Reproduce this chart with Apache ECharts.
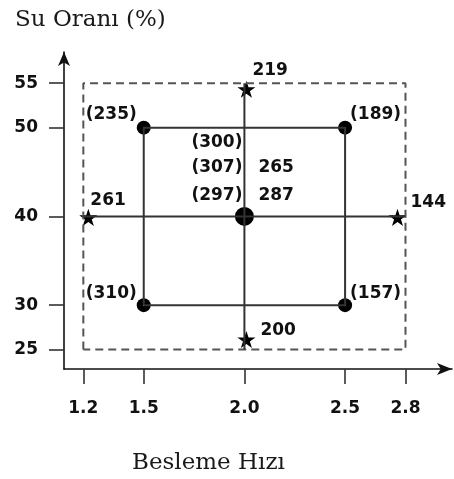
<!DOCTYPE html>
<html>
<head>
<meta charset="utf-8">
<script src="https://cdn.jsdelivr.net/npm/echarts@6/dist/echarts.min.js"></script>
<style>html,body{margin:0;padding:0;background:#fff;}#c{width:454px;height:479px;}</style>
</head>
<body>
<div id="c"></div>
<script>
// ---- data ----
const xTicks = [1.2, 1.5, 2.0, 2.5, 2.8];
const xTickLabels = ['1.2', '1.5', '2.0', '2.5', '2.8'];
const yTicks = [25, 30, 40, 50, 55];
const yTickLabels = ['25', '30', '40', '50', '55'];
const factorialPoints = [[1.5, 30], [1.5, 50], [2.5, 50], [2.5, 30]];
const factorialLabels = ['(310)', '(235)', '(189)', '(157)'];
const axialPoints = [[1.2, 40], [2.8, 40], [2.0, 55], [2.0, 25]];
const axialLabels = ['261', '144', '219', '200'];
const centerPoint = [2.0, 40];
const centerLabelsLeft = ['(300)', '(307)', '(297)'];
const centerLabelsRight = ['265', '287'];
const boundaryBox = [[1.2, 25], [1.2, 55], [2.8, 55], [2.8, 25], [1.2, 25]];
const factorialBox = [[1.5, 30], [1.5, 50], [2.5, 50], [2.5, 30], [1.5, 30]];
const horizontalLine = [[1.2, 40], [2.8, 40]];
const verticalLine = [[2.0, 25], [2.0, 55]];
const titleY = 'Su Oranı (%)';
const titleX = 'Besleme Hızı';

// ---- styles (pixel offsets for labels) ----
const factorialLabelStyle = [
  {align: 'right', offset: [-7, -12]},
  {align: 'right', offset: [-7, -13]},
  {align: 'left', offset: [5, -13]},
  {align: 'left', offset: [5, -12]}
];
const axialLabelStyle = [
  {align: 'left', offset: [7, -16]},
  {align: 'left', offset: [5, -14]},
  {align: 'left', offset: [8, -13]},
  {align: 'left', offset: [16, -19]}
];
const axialSymbolOffset = [[5, 1], [-8, 1], [2, 6], [2, -10]];
const centerLeftOffsets = [[-2, -74], [-2, -49], [-2, -21]];
const centerRightOffsets = [[14, -49], [14, -21]];

const starPath = 'path://M50,0 L61.2,34.5 L97.6,34.5 L68.2,55.9 L79.4,90.5 L50,69.1 L20.6,90.5 L31.8,55.9 L2.4,34.5 L38.8,34.5 Z';
const numFont = {fontFamily: 'DejaVu Sans', fontWeight: 'bold', fontSize: 17, color: '#111'};
const serifFont = {fontFamily: 'DejaVu Serif', fontSize: 23, fontWeight: 'normal', color: '#1a1a1a'};
const lineColor = '#333';

const labelItems = [];
factorialPoints.forEach((p, i) => labelItems.push({value: p, label: Object.assign({formatter: factorialLabels[i]}, factorialLabelStyle[i])}));
axialPoints.forEach((p, i) => labelItems.push({value: p, label: Object.assign({formatter: axialLabels[i]}, axialLabelStyle[i])}));
centerLabelsLeft.forEach((t, i) => labelItems.push({value: centerPoint, label: {formatter: t, align: 'right', offset: centerLeftOffsets[i]}}));
centerLabelsRight.forEach((t, i) => labelItems.push({value: centerPoint, label: {formatter: t, align: 'left', offset: centerRightOffsets[i]}}));

const chart = echarts.init(document.getElementById('c'), null, {renderer: 'canvas'});
chart.setOption({
  animation: false,
  backgroundColor: '#fff',
  title: [
    {text: titleY, left: 10, top: 4, textStyle: serifFont},
    {text: titleX, left: 127, top: 447, textStyle: serifFont}
  ],
  grid: {left: 64, right: 2, top: 52, bottom: 110},
  xAxis: {
    type: 'value', min: 1.104, max: 3.031,
    axisLine: {show: true, lineStyle: {color: '#111', width: 1.6}, symbol: ['none', 'arrow'], symbolSize: [9, 15]},
    axisTick: {show: true, customValues: xTicks, length: 15, lineStyle: {color: '#333', width: 1.6}},
    axisLabel: {show: true, customValues: xTicks, margin: 31,
      formatter: v => xTickLabels[xTicks.findIndex(t => Math.abs(t - v) < 1e-6)],
      ...numFont},
    splitLine: {show: false}
  },
  yAxis: {
    type: 'value', min: 22.81, max: 58.52,
    axisLine: {show: true, lineStyle: {color: '#111', width: 1.6}, symbol: ['none', 'arrow'], symbolSize: [9, 14]},
    axisTick: {show: true, customValues: yTicks, length: 15, lineStyle: {color: '#333', width: 1.6}},
    axisLabel: {show: true, customValues: yTicks, margin: 26,
      formatter: v => yTickLabels[yTicks.findIndex(t => Math.abs(t - v) < 1e-6)],
      ...numFont},
    splitLine: {show: false}
  },
  series: [
    {type: 'line', data: boundaryBox, symbol: 'none', silent: true,
      lineStyle: {color: '#555', width: 2, type: [8, 5]}},
    {type: 'line', data: factorialBox, symbol: 'none', silent: true,
      lineStyle: {color: lineColor, width: 2}},
    {type: 'line', data: horizontalLine, symbol: 'none', silent: true,
      lineStyle: {color: lineColor, width: 2}},
    {type: 'line', data: verticalLine, symbol: 'none', silent: true,
      lineStyle: {color: lineColor, width: 2}},
    {type: 'scatter', data: factorialPoints, symbol: 'circle', symbolSize: 14, silent: true,
      itemStyle: {color: '#000', opacity: 1}},
    {type: 'scatter', data: [centerPoint], symbol: 'circle', symbolSize: 19, silent: true,
      itemStyle: {color: '#000', opacity: 1}},
    {type: 'scatter', silent: true, symbol: starPath, symbolSize: 18, symbolKeepAspect: true,
      data: axialPoints.map((p, i) => ({value: p, symbolOffset: axialSymbolOffset[i]})),
      itemStyle: {color: '#000', opacity: 1}},
    {type: 'scatter', silent: true, symbolSize: 1, itemStyle: {color: '#fff', opacity: 1},
      data: labelItems,
      label: {show: true, position: 'inside', verticalAlign: 'middle', opacity: 1, ...numFont}}
  ]
});
</script>
</body>
</html>
